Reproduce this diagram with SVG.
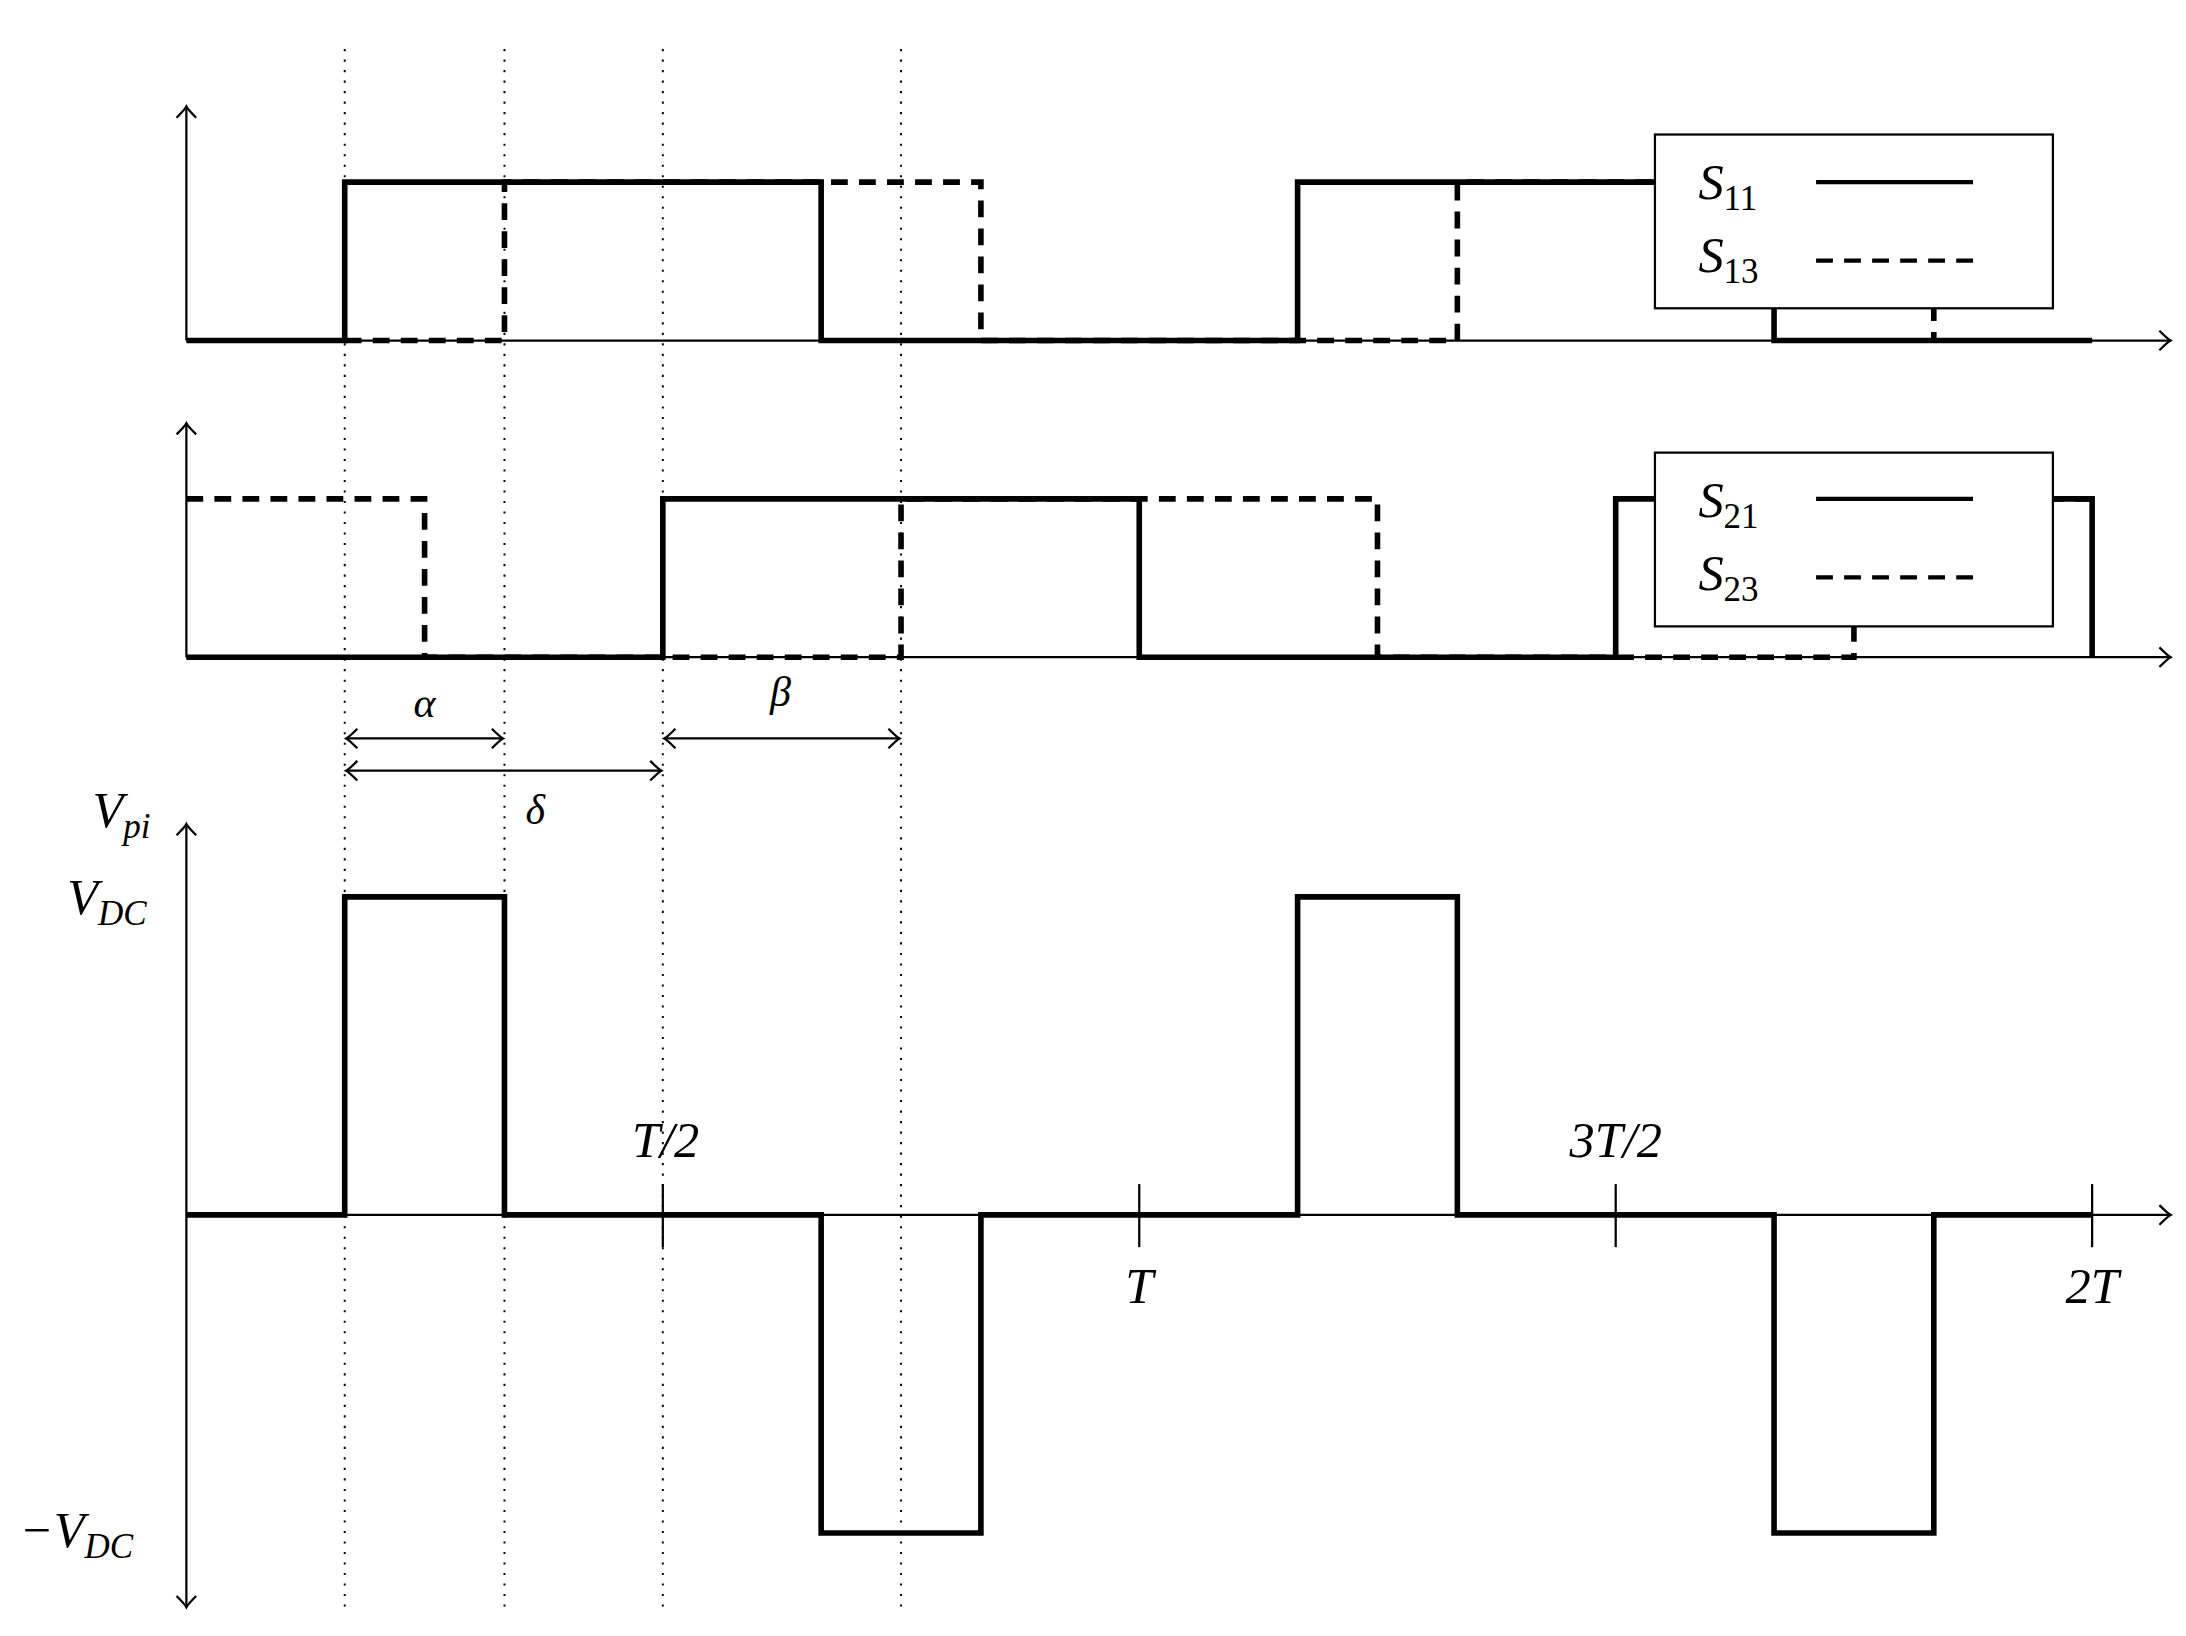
<svg xmlns="http://www.w3.org/2000/svg" width="2186" height="1636" viewBox="0 0 2186 1636">
<style>
.ax{fill:none;stroke:#000;stroke-width:1.6}
.sol{fill:none;stroke:#000;stroke-width:4;stroke-linejoin:miter}
.dsh{fill:none;stroke:#000;stroke-width:4;stroke-dasharray:12 8}
.dot{fill:none;stroke:#000;stroke-width:1.4;stroke-dasharray:1.5 6}
.box{fill:#fff;stroke:#000;stroke-width:1.6}
text{font-family:"Liberation Serif","DejaVu Serif",serif;font-style:italic;fill:#000}
.lb{font-size:36px}
.sub{font-size:25px;font-style:normal}
</style>
<defs>
<marker id="ar" viewBox="-10 -8 12 16" markerWidth="12" markerHeight="16" refX="0" refY="0" orient="auto-start-reverse" markerUnits="userSpaceOnUse">
<path d="M-8,-7 Q-2,-1 0,0 Q-2,1 -8,7" fill="none" stroke="#000" stroke-width="1.6"/>
</marker>
</defs>
<rect width="2186" height="1636" fill="#fff"/>
<g transform="scale(1.4013)">
<g id="guides">
<line class="dot" x1="246" y1="35" x2="246" y2="1150"/>
<line class="dot" x1="360" y1="35" x2="360" y2="1150"/>
<line class="dot" x1="473" y1="35" x2="473" y2="1150"/>
<line class="dot" x1="643" y1="35" x2="643" y2="1150"/>
</g>
<g id="plot1">
<line class="ax" x1="133" y1="243" x2="133" y2="76" marker-end="url(#ar)"/>
<line class="ax" x1="133" y1="243" x2="1549" y2="243" marker-end="url(#ar)"/>
<polyline class="dsh" points="246,243 360,243 360,130 700,130 700,243 926,243 1040,243 1040,130 1380,130 1380,243"/>
<polyline class="sol" points="133,243 246,243 246,130 586,130 586,243 926,243 926,130 1266,130 1266,243 1493,243"/>
</g>
<g id="plot2">
<line class="ax" x1="133" y1="469" x2="133" y2="302" marker-end="url(#ar)"/>
<line class="ax" x1="133" y1="469" x2="1549" y2="469" marker-end="url(#ar)"/>
<polyline class="dsh" points="133,356 303,356 303,469 643,469 643,356 983,356 983,469 1323,469 1323,356 1493,356"/>
<polyline class="sol" points="133,469 473,469 473,356 813,356 813,469 1153,469 1153,356 1493,356 1493,469"/>
</g>
<g id="legend1">
<rect class="box" x="1181" y="96" width="284" height="124"/>
<text class="lb" x="1212" y="142">S<tspan class="sub" dy="8">11</tspan></text>
<line class="sol" x1="1296" y1="130" x2="1408" y2="130" style="stroke-width:3"/>
<text class="lb" x="1212" y="194">S<tspan class="sub" dy="8">13</tspan></text>
<line class="dsh" x1="1296" y1="186" x2="1408" y2="186" style="stroke-width:3"/>
</g>
<g id="legend2">
<rect class="box" x="1181" y="323" width="284" height="124"/>
<text class="lb" x="1212" y="369">S<tspan class="sub" dy="8">21</tspan></text>
<line class="sol" x1="1296" y1="356" x2="1408" y2="356" style="stroke-width:3"/>
<text class="lb" x="1212" y="421">S<tspan class="sub" dy="8">23</tspan></text>
<line class="dsh" x1="1296" y1="412" x2="1408" y2="412" style="stroke-width:3"/>
</g>
<g id="connectors">
<line class="ax" x1="247" y1="527" x2="359" y2="527" marker-start="url(#ar)" marker-end="url(#ar)"/>
<line class="ax" x1="247" y1="550" x2="472" y2="550" marker-start="url(#ar)" marker-end="url(#ar)"/>
<line class="ax" x1="474" y1="527" x2="642" y2="527" marker-start="url(#ar)" marker-end="url(#ar)"/>
</g>
<g id="dimlabels">
<text class="lb" x="303" y="512" text-anchor="middle" style="font-size:30px">α</text>
<text class="lb" x="382" y="588" text-anchor="middle" style="font-size:30px">δ</text>
<text class="lb" x="557" y="504" text-anchor="middle" style="font-size:30px">β</text>
</g>
<g id="plot3">
<line class="ax" x1="133" y1="1147" x2="133" y2="588" marker-start="url(#ar)" marker-end="url(#ar)"/>
<line class="ax" x1="133" y1="867" x2="1549" y2="867" marker-end="url(#ar)"/>
<line class="ax" x1="473" y1="845" x2="473" y2="890"/>
<line class="ax" x1="813" y1="845" x2="813" y2="890"/>
<line class="ax" x1="1153" y1="845" x2="1153" y2="890"/>
<line class="ax" x1="1493" y1="845" x2="1493" y2="890"/>
<polyline class="sol" points="133,867 246,867 246,640 360,640 360,867 586,867 586,1094 700,1094 700,867 926,867 926,640 1040,640 1040,867 1266,867 1266,1094 1380,1094 1380,867 1493,867"/>
<text class="lb" x="475" y="826" text-anchor="middle">T/2</text>
<text class="lb" x="1153" y="826" text-anchor="middle">3T/2</text>
<text class="lb" x="813" y="930" text-anchor="middle">T</text>
<text class="lb" x="1493" y="930" text-anchor="middle">2T</text>
<text class="lb" x="66" y="590">V<tspan class="sub" dy="8" style="font-style:italic">pi</tspan></text>
<text class="lb" x="48" y="652">V<tspan class="sub" dy="8" style="font-style:italic">DC</tspan></text>
<text class="lb" x="14" y="1104">−V<tspan class="sub" dy="8" style="font-style:italic">DC</tspan></text>
</g>
</g>
</svg>
